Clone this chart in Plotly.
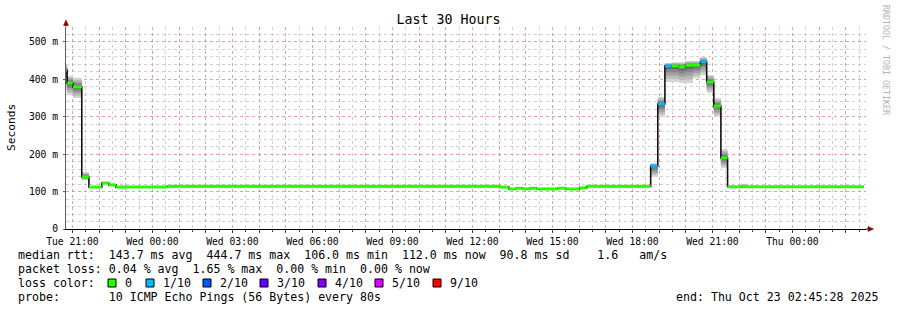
import plotly.graph_objects as go
import pandas as pd

# ---------------- data ----------------
START = "2025-10-21 20:45:28"
END = "2025-10-23 02:45:28"

# step boundaries: start of each consolidated step, last entry = end of last step
step_times = [
    "2025-10-21 20:45", "2025-10-21 20:48", "2025-10-21 21:01", "2025-10-21 21:21",
    "2025-10-21 21:37", "2025-10-21 22:06", "2025-10-21 22:22", "2025-10-21 22:38",
    "2025-10-22 00:33", "2025-10-22 13:02", "2025-10-22 13:22", "2025-10-22 13:38",
    "2025-10-22 13:54", "2025-10-22 14:09", "2025-10-22 14:25", "2025-10-22 15:12",
    "2025-10-22 15:30", "2025-10-22 16:01", "2025-10-22 16:17", "2025-10-22 18:41",
    "2025-10-22 18:57", "2025-10-22 19:13", "2025-10-22 19:28", "2025-10-22 19:44",
    "2025-10-22 19:59", "2025-10-22 20:16", "2025-10-22 20:33", "2025-10-22 20:47",
    "2025-10-22 21:03", "2025-10-22 21:19", "2025-10-22 21:34", "2025-10-22 22:05",
    "2025-10-22 22:20", "2025-10-23 02:41",
]
median_ms = [425, 390, 380, 139, 112, 123, 118, 112, 114, 112, 107, 109, 107, 109, 107,
             109, 107, 110, 114, 168, 334, 436, 436, 433, 438, 438, 447, 393, 329, 190,
             113, 113, 113]
loss_of_10 = [1, 0, 0, 0, 0, 0, 0, 0, 0, 0, 0, 0, 0, 0, 0, 0, 0, 0, 0, 1, 1, 1, 0, 0, 0,
              0, 1, 0, 0, 0, 0, 0, 0]
smoke_low = [370, 358, 350, 131, 111, 122, 117, 111, 113, 111, 106, 108, 106, 108, 106,
             108, 106, 109, 113, 139, 300, 393, 393, 390, 390, 403, 412, 364, 300, 163,
             112, 112, 112]
smoke_high = [440, 410, 404, 152, 113, 124, 119, 113, 115, 113, 108, 110, 108, 110, 108,
              110, 108, 111, 115, 176, 353, 444, 446, 446, 449, 449, 460, 412, 350, 214,
              114, 121, 114]

x_label_times = ["2025-10-21 21:00", "2025-10-22 00:00", "2025-10-22 03:00",
                 "2025-10-22 06:00", "2025-10-22 09:00", "2025-10-22 12:00",
                 "2025-10-22 15:00", "2025-10-22 18:00", "2025-10-22 21:00",
                 "2025-10-23 00:00"]
x_labels = ["Tue 21:00", "Wed 00:00", "Wed 03:00", "Wed 06:00", "Wed 09:00",
            "Wed 12:00", "Wed 15:00", "Wed 18:00", "Wed 21:00", "Thu 00:00"]
y_tick_vals = [0, 100, 200, 300, 400, 500]
y_tick_text = ["0", "100 m", "200 m", "300 m", "400 m", "500 m"]

loss_legend = [("0", "#26ff00"), ("1/10", "#00b8ff"), ("2/10", "#0059ff"),
               ("3/10", "#5e00ff"), ("4/10", "#7e00ff"), ("5/10", "#dd00ff"),
               ("9/10", "#ff0000")]
loss_colors = {0: "#26ff00", 1: "#00b8ff", 2: "#0059ff", 3: "#5e00ff",
               4: "#7e00ff", 5: "#dd00ff", 9: "#ff0000"}

stat_rows = [
    "median rtt:  143.7 ms avg  444.7 ms max  106.0 ms min  112.0 ms now  90.8 ms sd    1.6   am/s",
    "packet loss: 0.04 % avg  1.65 % max  0.00 % min  0.00 % now",
    "loss color:",
    "probe:       10 ICMP Echo Pings (56 Bytes) every 80s",
]
end_text = "end: Thu Oct 23 02:45:28 2025"

# ---------------- geometry helpers (pixel -> paper) ----------------
L, R, T, B = 66, 866, 27, 229
W, H = 897, 310
def px(x):
    return (x - L) / (R - L)
def py(y):
    return (B - y) / (B - T)

FONT = "DejaVu Sans Mono"
fig = go.Figure()

# smoke bands (outer light -> inner dark)
shades = ["#d4d4d4", "#bababa", "#a0a0a0", "#858585", "#646464"]
nb = len(shades)
xs = step_times
for k, col in enumerate(shades):
    lo = [l + (m - l) * k / nb for l, m in zip(smoke_low, median_ms)]
    hi = [h - (h - m) * k / nb for h, m in zip(smoke_high, median_ms)]
    fig.add_trace(go.Scatter(x=xs, y=lo + [lo[-1]], mode="lines", line=dict(width=0, shape="hv"),
                             hoverinfo="skip"))
    fig.add_trace(go.Scatter(x=xs, y=hi + [hi[-1]], mode="lines", line=dict(width=0, shape="hv"),
                             fill="tonexty", fillcolor=col, hoverinfo="skip"))

# median black step line
fig.add_trace(go.Scatter(x=xs, y=median_ms + [median_ms[-1]], mode="lines",
                         line=dict(color="#111111", width=1.6, shape="hv"), hoverinfo="skip"))

# loss-coloured median segments
for loss, col in loss_colors.items():
    sx, sy = [], []
    for i, l in enumerate(loss_of_10):
        if l == loss:
            sx += [step_times[i], step_times[i + 1], None]
            sy += [median_ms[i], median_ms[i], None]
    if sx:
        fig.add_trace(go.Scatter(x=sx, y=sy, mode="lines", line=dict(color=col, width=3),
                                 hoverinfo="skip"))

# hourly ticks
hours = pd.date_range("2025-10-21 21:00", "2025-10-23 02:00", freq="1h")
label_map = dict(zip(pd.to_datetime(x_label_times), x_labels))
tickvals = [h.strftime("%Y-%m-%d %H:%M") for h in hours]
ticktext = [label_map.get(h, "") for h in hours]

MAJ = "rgba(240,120,120,0.55)"
MIN = "rgba(170,170,170,0.55)"
fig.update_xaxes(
    type="date", range=[START, END], tickmode="array", tickvals=tickvals, ticktext=ticktext,
    showgrid=True, gridcolor=MAJ, griddash="dot", gridwidth=1,
    minor=dict(tickmode="linear", tick0="2025-10-21 20:30", dtick=1800000, showgrid=True,
               gridcolor=MIN, griddash="dot", gridwidth=1,
               ticks="outside", ticklen=2, tickcolor="#444"),
    showline=True, linecolor="#000000", linewidth=1, zeroline=False,
    ticks="outside", ticklen=3, tickcolor="#444",
    tickfont=dict(family=FONT, size=9.7, color="#000"), tickangle=0,
)
fig.update_yaxes(
    range=[0, 540], tickmode="array", tickvals=y_tick_vals, ticktext=y_tick_text,
    showgrid=True, gridcolor=MAJ, griddash="dot", gridwidth=1,
    minor=dict(tickmode="linear", tick0=0, dtick=20, showgrid=True,
               gridcolor=MIN, griddash="dot", gridwidth=1),
    showline=True, linecolor="#606060", linewidth=1, zeroline=False,
    ticks="outside", ticklen=2, tickcolor="#606060",
    tickfont=dict(family=FONT, size=9.7, color="#000"), ticklabelstandoff=3,
)

annotations = []
# y axis title
annotations.append(dict(text="Seconds", xref="paper", yref="paper", x=px(11), y=py(127),
                        showarrow=False, textangle=-90, xanchor="center", yanchor="middle",
                        font=dict(family=FONT, size=11.2, color="#000")))
# vertical watermark
annotations.append(dict(text="RRDTOOL / TOBI OETIKER", xref="paper", yref="paper", x=px(886),
                        y=py(60), showarrow=False, textangle=90, xanchor="center",
                        yanchor="middle", font=dict(family=FONT, size=8.3, color="#b4b4b4")))
# stat rows
row_y = [255, 269, 283, 297]
for txt, yy in zip(stat_rows, row_y):
    annotations.append(dict(text=txt.replace(" ", "\u00a0"), xref="paper", yref="paper",
                            x=px(16), y=py(yy), showarrow=False, xanchor="left",
                            yanchor="middle", font=dict(family=FONT, size=11.6, color="#000")))
# loss colour legend
sq_left = [108, 146, 203, 260, 318, 375, 433]
shapes = []
for (lab, col), xl in zip(loss_legend, sq_left):
    shapes.append(dict(type="rect", xref="paper", yref="paper", x0=px(xl), x1=px(xl + 8),
                       y0=py(287), y1=py(279), fillcolor=col, line=dict(color="#000", width=1),
                       layer="above"))
    annotations.append(dict(text=lab, xref="paper", yref="paper", x=px(xl + 15), y=py(283),
                            showarrow=False, xanchor="left", yanchor="middle",
                            font=dict(family=FONT, size=11.6, color="#000")))
annotations.append(dict(text=end_text, xref="paper", yref="paper", x=px(880), y=py(297),
                        showarrow=False, xanchor="right", yanchor="middle",
                        font=dict(family=FONT, size=11.6, color="#000")))

# axis extensions and arrow heads
shapes.append(dict(type="line", xref="paper", yref="paper", x0=0, x1=0, y0=1, y1=py(23),
                   line=dict(color="#606060", width=1)))
shapes.append(dict(type="line", xref="paper", yref="paper", x0=1, x1=px(869), y0=0, y1=0,
                   line=dict(color="#000", width=1)))
shapes.append(dict(type="path", xref="paper", yref="paper",
                   path=f"M {px(63.5)},{py(25.5)} L {px(66)},{py(20)} L {px(68.5)},{py(25.5)} Z",
                   fillcolor="#8b0000", line=dict(color="#8b0000", width=0.5)))
shapes.append(dict(type="path", xref="paper", yref="paper",
                   path=f"M {px(868)},{py(226.5)} L {px(873.5)},{py(229)} L {px(868)},{py(231.5)} Z",
                   fillcolor="#8b0000", line=dict(color="#8b0000", width=0.5)))

fig.update_layout(
    width=W, height=H, margin=dict(l=L, r=W - R, t=T, b=H - B, pad=0),
    paper_bgcolor="white", plot_bgcolor="white", showlegend=False,
    title=dict(text="Last 30 Hours", x=448.5 / W, xref="container", xanchor="center",
               y=1 - 19 / H, yref="container", yanchor="middle",
               font=dict(family=FONT, size=13.3, color="#000")),
    annotations=annotations, shapes=shapes,
)

fig.write_html("out.html")
